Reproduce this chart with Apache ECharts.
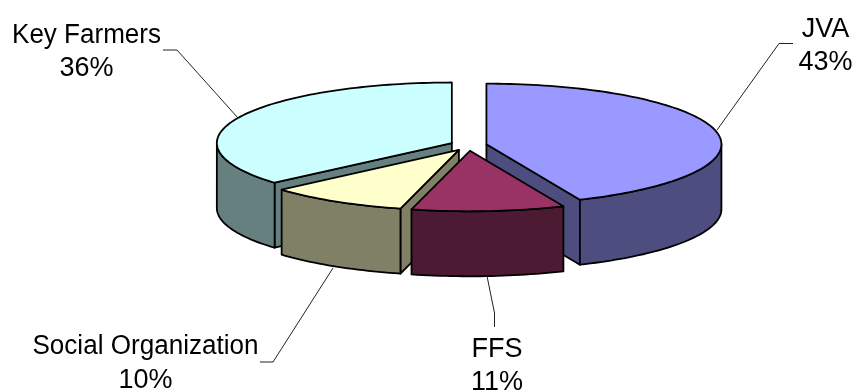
<!DOCTYPE html>
<html><head><meta charset="utf-8">
<style>html,body{margin:0;padding:0;background:#fff}#c{width:857px;height:392px}</style>
<script src="https://cdn.jsdelivr.net/npm/echarts@6/dist/echarts.min.js"></script>
</head><body><div id="c"></div>
<script>
const categories = ['JVA', 'FFS', 'Social Organization', 'Key Farmers'];
const shares = [43.49, 10.51, 9.6, 36.4];
const topColors = ['#9999FF', '#993366', '#FFFFCC', '#CCFFFF'];
const sideColors = ['#4D4D80', '#4D1A33', '#808066', '#668080'];
// label placement: text centre x, text block centre y, name squeeze, leader polyline
const labelPos = [
  {x: 825.5, y: 46, sx: 1, leader: [[793, 43.5], [779, 43.5], [717, 130]]},
  {x: 497, y: 366, sx: 1, leader: [[494.5, 327], [494.5, 313], [487, 276]]},
  {x: 145.5, y: 363.5, sx: 0.966, leader: [[260, 362], [273, 362], [333, 268]]},
  {x: 86.5, y: 52, sx: 0.964, leader: [[163, 50], [177, 50], [238, 118]]}
];
const C = {x: 468.5, y: 145.3, rx: 235, ry: 60.5, h: 65, ex: 18.3, ey: 5.5};
const FONT = '27px "Liberation Sans", Arial, sans-serif';

const total = shares.reduce((a, b) => a + b, 0);
let acc = 0;
const slices = shares.map((v, i) => {
  const a0 = acc / total * 2 * Math.PI; acc += v;
  const a1 = acc / total * 2 * Math.PI;
  return {i, a0, a1, mid: (a0 + a1) / 2};
});
const drawOrder = slices.slice().sort((p, q) => Math.cos(q.mid) - Math.cos(p.mid));

function renderItem(params, api) {
  const s = drawOrder[params.dataIndex];
  const i = s.i;
  const ax = C.x + C.ex * Math.sin(s.mid);
  const ay = C.y - C.ey * Math.cos(s.mid);
  const pt = t => [ax + C.rx * Math.sin(t), ay - C.ry * Math.cos(t)];
  const arc = (t0, t1) => {
    const n = Math.max(2, Math.ceil((t1 - t0) * 40)), out = [];
    for (let k = 0; k <= n; k++) out.push(pt(t0 + (t1 - t0) * k / n));
    return out;
  };
  const down = p => [p[0], p[1] + C.h];
  const poly = (points, fill) => ({type: 'polygon', shape: {points},
    style: {fill, stroke: '#000', lineWidth: 1.8, lineJoin: 'round'}});
  const children = [];
  const apex = [ax, ay];
  // radial walls that face the viewer (edges running leftwards on a clockwise outline)
  const wall = (p, q) => {
    if (q[0] - p[0] < -0.01) children.push(poly([p, q, down(q), down(p)], sideColors[i]));
  };
  wall(apex, pt(s.a0));
  wall(pt(s.a1), apex);
  // outer wall: the part of the rim on the front half of the ellipse
  const f0 = Math.max(s.a0, Math.PI / 2), f1 = Math.min(s.a1, Math.PI * 1.5);
  if (f1 > f0) {
    const rim = arc(f0, f1);
    children.push(poly(rim.concat(rim.slice().reverse().map(down)), sideColors[i]));
  }
  children.push(poly([apex].concat(arc(s.a0, s.a1)), topColors[i]));
  // label and leader line
  const L = labelPos[i];
  children.push({type: 'polyline', shape: {points: L.leader}, style: {fill: 'none', stroke: '#222', lineWidth: 1}});
  const textEl = (str, y, sx) => ({type: 'text', x: L.x, y, scaleX: sx, style: {
    x: 0, y: 0, text: str, align: 'center', verticalAlign: 'middle', fill: '#000', font: FONT
  }});
  children.push(textEl(categories[i], L.y - 16.75, L.sx));
  children.push(textEl(Math.round(shares[i]) + '%', L.y + 16.75, 1));
  return {type: 'group', children};
}

const chart = echarts.init(document.getElementById('c'), null, {renderer: 'canvas'});
chart.setOption({
  animation: false,
  backgroundColor: '#fff',
  series: [{
    type: 'custom',
    coordinateSystem: 'none',
    renderItem,
    data: drawOrder.map(s => ({name: categories[s.i], value: shares[s.i]}))
  }]
});
</script></body></html>
